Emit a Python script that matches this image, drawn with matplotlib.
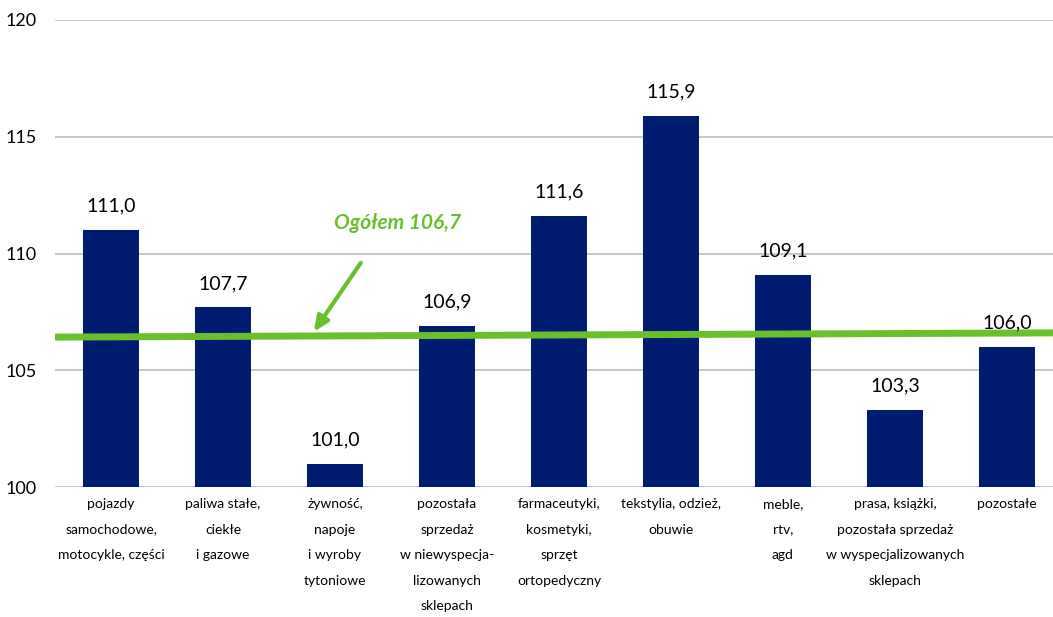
import numpy as np
import matplotlib.pyplot as plt

# dane
kategorie = [
    'pojazdy\nsamochodowe,\nmotocykle, części',
    'paliwa stałe,\nciekłe\ni gazowe',
    'żywność,\nnapoje\ni wyroby\ntytoniowe',
    'pozostała\nsprzedaż\nw niewyspecja-\nlizowanych\nsklepach',
    'farmaceutyki,\nkosmetyki,\nsprzęt\nortopedyczny',
    'tekstylia, odzież,\nobuwie',
    'meble,\nrtv,\nagd',
    'prasa, książki,\npozostała sprzedaż\nw wyspecjalizowanych\nsklepach',
    'pozostałe',
]
wartosci = [111.0, 107.7, 101.0, 106.9, 111.6, 115.9, 109.1, 103.3, 106.0]
ogolem = 106.7
linia_ogolem = [106.42, 106.6]   # linia narysowana lekko ukośnie
y_ticks = [100, 105, 110, 115, 120]

GRANAT = '#001c71'
ZIELONY = '#6abf2c'

plt.rcParams['font.family'] = ['Lato', 'DejaVu Sans']

fig = plt.figure(figsize=(10.53, 6.17), dpi=100)
ax = fig.add_axes([55 / 1053, 1 - 487 / 617, 1 - 55 / 1053, (487 - 20) / 617])

x = np.arange(len(wartosci))
ax.bar(x, np.array(wartosci) - 100, bottom=100, width=0.5,
       color=GRANAT, zorder=2)

for xi, v in zip(x, wartosci):
    ax.annotate(f'{v:.1f}'.replace('.', ','), (xi, v), xytext=(0, 11),
                textcoords='offset points', ha='center', va='bottom',
                fontsize=14, color='black', zorder=4)

ax.set_xlim(-0.5, (1053 - 111) / 112)
ax.set_ylim(100, 120)
ax.set_yticks(y_ticks)
ax.set_yticklabels([str(t) for t in y_ticks], fontsize=13)
ax.yaxis.grid(True, color='#bfbfbf', linewidth=1.2, zorder=0)
ax.set_axisbelow(True)
ax.tick_params(axis='y', length=0, pad=13)
ax.tick_params(axis='x', length=0, pad=8)
ax.set_xticks(x)
ax.set_xticklabels(kategorie, fontsize=10, linespacing=2.35, va='top')
for s in ax.spines.values():
    s.set_visible(False)

# linia "ogółem"
ax.plot(ax.get_xlim(), linia_ogolem, color=ZIELONY, linewidth=5,
        solid_capstyle='butt', zorder=3, clip_on=False)

ax.annotate('', xy=(1.81, 106.65), xytext=(2.23, 109.6),
            arrowprops=dict(arrowstyle='-|>,head_length=0.9,head_width=0.4',
                            color=ZIELONY, lw=3, shrinkA=0, shrinkB=0),
            zorder=4)
ax.text(2.56, 111.3, f'Ogółem {ogolem:.1f}'.replace('.', ','), color=ZIELONY,
        fontsize=15, fontweight='bold', fontstyle='italic',
        ha='center', va='center', zorder=4)

fig.savefig('out.png', dpi=100)
